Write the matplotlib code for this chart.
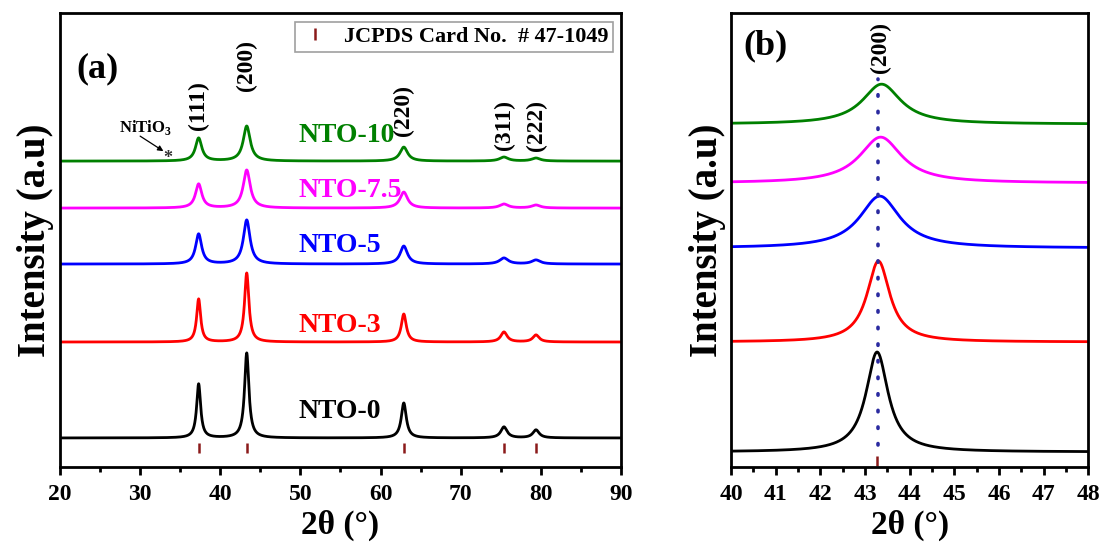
import numpy as np
from matplotlib import pyplot as plt
from matplotlib.lines import Line2D

plt.rcParams['font.family'] = ['Liberation Serif', 'DejaVu Serif']
plt.rcParams['font.weight'] = 'bold'
plt.rcParams['mathtext.fontset'] = 'custom'
plt.rcParams['mathtext.rm'] = 'Liberation Serif:bold'

# peak positions (2theta), JCPDS 47-1049
hkl = ['(111)', '(200)', '(220)', '(311)', '(222)']
peak_pos = [37.3, 43.3, 62.9, 75.4, 79.4]

samples = ['NTO-0', 'NTO-3', 'NTO-5', 'NTO-7.5', 'NTO-10']
colors = ['black', 'red', 'blue', 'magenta', 'green']

# panel (a): baseline offset, peak heights and widths per sample
base_a = [29, 125, 203, 259, 306]
height_a = [
    [54, 85, 35, 11, 8],
    [43, 69, 28, 10, 7],
    [30, 44, 18, 6, 4],
    [24, 38, 16, 4, 3],
    [23, 35, 14, 4, 3],
]
fwhm_a = [
    [0.6, 0.65, 0.75, 0.95, 0.95],
    [0.6, 0.65, 0.75, 0.95, 0.95],
    [0.9, 1.0, 1.1, 1.3, 1.3],
    [0.95, 1.05, 1.15, 1.3, 1.3],
    [0.95, 1.05, 1.15, 1.3, 1.3],
]

# panel (b): the (200) reflection only
center_b = [43.27, 43.30, 43.33, 43.35, 43.37]
base_b = [15, 125, 219, 284, 343]
height_b = [100, 81, 52, 46, 40]
fwhm_b = [0.6, 0.62, 1.1, 1.15, 1.05]


def profile(x, pos, heights, widths):
    y = np.zeros_like(x)
    for c, h, w in zip(pos, heights, widths):
        y += h / (1.0 + ((x - c) / (w / 2)) ** 2)
    return y


fig = plt.figure(figsize=(11.01, 5.50), dpi=100)
ax1 = fig.add_axes([0.0545, 0.151, 0.5095, 0.825])
ax2 = fig.add_axes([0.664, 0.151, 0.3245, 0.825])

# ---- (a) ----
x_a = np.linspace(20, 90, 3501)
for i in range(len(samples)):
    y = base_a[i] + profile(x_a, peak_pos, height_a[i], fwhm_a[i])
    ax1.plot(x_a, y, color=colors[i], lw=2)

ax1.vlines(peak_pos, 14, 24, color='#8B1A1A', lw=1.8)

label_y = [55, 142, 222, 277, 332]
for i in range(len(samples)):
    ax1.text(49.7, label_y[i], samples[i], color=colors[i], fontsize=20,
             fontweight='bold', ha='left', va='center')

hkl_y = [362, 402, 357, 342, 342]
for i in range(len(hkl)):
    ax1.text(peak_pos[i], hkl_y[i], hkl[i], rotation=90, fontsize=17,
             fontweight='bold', ha='center', va='center')

# NiTiO3 impurity mark
ax1.text(33.4, 309, '*', fontsize=13, ha='center', va='center', color='#333333')
ax1.text(30.7, 340, 'NiTiO$_3$', fontsize=12, fontweight='bold', ha='center', va='center')
ax1.annotate('', xy=(32.9, 316), xytext=(30.0, 331),
             arrowprops=dict(arrowstyle='-|>', color='black', lw=0.9,
                             mutation_scale=8, shrinkA=0, shrinkB=0))

ax1.text(24.7, 398, '(a)', fontsize=26, fontweight='bold', ha='center', va='center')

ref_handle = Line2D([], [], color='#8B1A1A', marker='|', linestyle='None',
                    markersize=9, markeredgewidth=1.8)
leg = ax1.legend([ref_handle], ['JCPDS Card No.  # 47-1049'], loc='upper right',
                 bbox_to_anchor=(0.986, 0.980), borderaxespad=0, fontsize=16,
                 frameon=True, fancybox=False, edgecolor='#888888',
                 handlelength=1.4, handletextpad=0.6, borderpad=0.2)
leg.get_frame().set_linewidth(1.2)
for t in leg.get_texts():
    t.set_fontweight('bold')

ax1.set_xlim(20, 90)
ax1.set_ylim(0, 454)
ax1.set_xticks(np.arange(20, 91, 10))
ax1.set_xticks(np.arange(25, 90, 10), minor=True)

# ---- (b) ----
x_b = np.linspace(40, 48, 1601)
for i in range(len(samples)):
    y = base_b[i] + profile(x_b, [center_b[i]], [height_b[i]], [fwhm_b[i]])
    ax2.plot(x_b, y, color=colors[i], lw=2)

ax2.plot([43.3, 43.3], [22, 388], color='#2a2aa0', lw=2.6, linestyle=(0, (0.4, 4.2)),
         dash_capstyle='round')
ax2.vlines([43.27], 1, 11, color='#8B1A1A', lw=1.8)
ax2.text(43.35, 420, '(200)', rotation=90, fontsize=17, fontweight='bold',
         ha='center', va='center')
ax2.text(40.78, 421, '(b)', fontsize=26, fontweight='bold', ha='center', va='center')

ax2.set_xlim(40, 48)
ax2.set_ylim(0, 454)
ax2.set_xticks(np.arange(40, 49, 1))
ax2.set_xticks(np.arange(40.5, 48, 1), minor=True)

for ax in (ax1, ax2):
    ax.set_yticks([])
    ax.set_xlabel('2θ (°)', fontsize=24, fontweight='bold', labelpad=4)
    ax.set_ylabel('Intensity (a.u)', fontsize=28, fontweight='bold', labelpad=4)
    for s in ax.spines.values():
        s.set_linewidth(2)
    ax.tick_params(axis='x', which='major', direction='out', length=6, width=2,
                   labelsize=17, pad=6)
    ax.tick_params(axis='x', which='minor', direction='out', length=3.5, width=2)
    for lab in ax.get_xticklabels():
        lab.set_fontweight('bold')

fig.savefig('out.png', dpi=100)
